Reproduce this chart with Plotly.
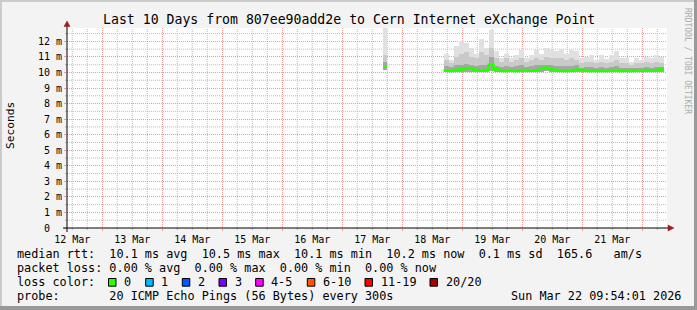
import plotly.graph_objects as go
import pandas as pd

# ---------------- data ----------------
t_start = "2026-03-12 09:54:01"
t_end = "2026-03-22 09:54:01"
y_max_ms = 12.86

day_ticks_start = "2026-03-12"
y_tick_vals = list(range(0, 13))
y_tick_text = ["0\u00a0\u00a0"] + [f"{v} m" for v in range(1, 13)]

# main run of samples (2 h bins starting at run_start)
run_start = "2026-03-18 16:30"
bin_hours = 2
ping_min = [10.02, 10.03, 10.02, 10.04, 10.05, 10.05, 10.03, 10.02, 10.03, 10.08, 10.04, 10.02,
            10.02, 10.03, 10.02, 10.03, 10.03, 10.04, 10.05, 10.06, 10.08, 10.05, 10.04, 10.03,
            10.02, 10.03, 10.04, 10.03, 10.03, 10.02, 10.03, 10.02, 10.02, 10.03, 10.04, 10.02,
            10.03, 10.02, 10.03, 10.03, 10.04, 10.03, 10.03, 10.05]
ping_p60 = [10.4, 10.35, 10.45, 10.5, 10.55, 10.5, 10.4, 10.5, 10.45, 11.0, 10.4, 10.35,
            10.4, 10.35, 10.4, 10.45, 10.35, 10.4, 10.45, 10.45, 10.5, 10.45, 10.4, 10.4,
            10.4, 10.4, 10.45, 10.3, 10.35, 10.35, 10.3, 10.35, 10.3, 10.35, 10.4, 10.3,
            10.3, 10.28, 10.3, 10.3, 10.35, 10.3, 10.35, 10.35]
ping_p80 = [10.8, 10.6, 11.0, 11.2, 11.3, 11.0, 10.9, 11.3, 11.1, 11.6, 10.9, 10.7,
            10.9, 10.7, 10.8, 10.9, 10.7, 10.8, 10.9, 10.8, 11.0, 10.9, 10.9, 10.9,
            10.8, 10.9, 10.8, 10.6, 10.7, 10.7, 10.6, 10.7, 10.6, 10.7, 10.8, 10.6,
            10.6, 10.5, 10.6, 10.6, 10.7, 10.6, 10.7, 10.6]
ping_max = [11.2, 10.8, 11.7, 12.0, 11.9, 11.55, 11.2, 12.15, 11.6, 12.75, 11.35, 10.9,
            11.2, 10.9, 11.1, 11.45, 10.9, 11.1, 11.45, 11.2, 11.6, 11.45, 11.35, 11.5,
            11.2, 11.45, 11.35, 10.9, 11.0, 11.1, 10.8, 11.15, 10.85, 11.1, 11.4, 10.9,
            10.9, 10.7, 10.9, 10.8, 11.0, 10.9, 11.1, 11.0]
median_rtt = [10.12, 10.1, 10.15, 10.2, 10.25, 10.28, 10.15, 10.12, 10.15, 10.5, 10.2, 10.12,
              10.1, 10.12, 10.1, 10.12, 10.15, 10.12, 10.12, 10.25, 10.3, 10.22, 10.15, 10.12,
              10.1, 10.12, 10.18, 10.18, 10.12, 10.1, 10.12, 10.1, 10.1, 10.12, 10.15, 10.1,
              10.12, 10.1, 10.12, 10.12, 10.15, 10.12, 10.12, 10.2]

# isolated sample on 17 Mar
blip_time = "2026-03-17 17:06"
blip_hours = 1.4
blip_min = 10.15
blip_p60 = 10.7
blip_p80 = 11.1
blip_max = 13.5
blip_median = 10.38

# legend / text content
title_text = "Last 10 Days from 807ee90add2e to Cern Internet eXchange Point"
legend_rtt = "median rtt:  10.1 ms avg  10.5 ms max  10.1 ms min  10.2 ms now  0.1 ms sd  165.6   am/s"
legend_loss = "packet loss: 0.00 % avg  0.00 % max  0.00 % min  0.00 % now"
legend_color_label = "loss color:"
loss_labels = ["0", "1", "2", "3", "4-5", "6-10", "11-19", "20/20"]
loss_colors = ["#26ff00", "#00b8ff", "#0059ff", "#7e00ff", "#ff00ff", "#ff5500", "#ff0000", "#a10000"]
legend_probe = "probe:       20 ICMP Echo Pings (56 Bytes) every 300s"
date_text = "Sun Mar 22 09:54:01 2026"

# ---------------- layout geometry ----------------
W, H = 697, 310
L, R, T, B = 67, 667, 28, 228
MONO = "DejaVu Sans Mono"
MGRID = "#ec9a9a"
GRID = "#bdbdbd"
SMOKE = ["#e0e0e0", "#c9c9c9", "#a6a6a6"]
GREEN = loss_colors[0]


def px(x):
    return (x - L) / (R - L)


def py(y):
    return (B - y) / (B - T)


def nb(s):
    return s.replace(" ", "\u00a0")


starts = pd.date_range(run_start, periods=len(median_rtt), freq=f"{bin_hours}h")
bin_td = pd.Timedelta(hours=bin_hours)
centers = starts + bin_td / 2
bw_ms = bin_hours * 3600 * 1000

b_time = pd.Timestamp(blip_time)
b_td = pd.Timedelta(hours=blip_hours)
b_ms = blip_hours * 3600 * 1000

# minor grid positions (6 h and 0.5 ms, skipping the major ones)
minor_x = [t for t in pd.date_range(day_ticks_start, t_end, freq="6h")
           if t.hour != 0 and t > pd.Timestamp(t_start)]
minor_y = [v + 0.5 for v in range(0, 13) if v + 0.5 < y_max_ms]

fig = go.Figure()

layers = [(ping_max, blip_max, SMOKE[0]), (ping_p80, blip_p80, SMOKE[1]), (ping_p60, blip_p60, SMOKE[2])]
for top, btop, col in layers:
    fig.add_trace(go.Bar(
        x=list(centers), y=[a - b for a, b in zip(top, ping_min)], base=ping_min,
        width=bw_ms, marker=dict(color=col, line=dict(width=0)),
        showlegend=False, hoverinfo="skip"))
    fig.add_trace(go.Bar(
        x=[b_time], y=[btop - blip_min], base=[blip_min],
        width=b_ms, marker=dict(color=col, line=dict(width=0)),
        showlegend=False, hoverinfo="skip"))

# median line (step)
line_x = list(starts) + [starts[-1] + bin_td]
line_y = median_rtt + [median_rtt[-1]]
fig.add_trace(go.Scatter(x=line_x, y=line_y, mode="lines", line=dict(color=GREEN, width=2.6, shape="hv"),
                         showlegend=False, hoverinfo="skip"))
fig.add_trace(go.Scatter(x=[b_time - b_td / 2, b_time + b_td / 2], y=[blip_median, blip_median], mode="lines",
                         line=dict(color=GREEN, width=2.6), showlegend=False, hoverinfo="skip"))

shapes = []
# minor grid (positioned through both axes so it sits above the plot background, below traces)
for t in minor_x:
    shapes.append(dict(type="line", xref="x", yref="y", x0=t, x1=t, y0=0, y1=y_max_ms, layer="below",
                       line=dict(color=GRID, width=1, dash="1px,1px")))
    shapes.append(dict(type="line", xref="x", yref="paper", x0=t, x1=t, y0=py(228), y1=py(230),
                       line=dict(color=GRID, width=1)))
for v in minor_y:
    shapes.append(dict(type="line", xref="x", yref="y", x0=t_start, x1=t_end, y0=v, y1=v, layer="below",
                       line=dict(color=GRID, width=1, dash="1px,1px")))
    shapes.append(dict(type="line", xref="paper", yref="y", x0=px(65), x1=px(67), y0=v, y1=v,
                       line=dict(color=GRID, width=1)))
# borders
shapes.append(dict(type="rect", xref="paper", yref="paper", x0=px(0), x1=px(W), y0=py(0), y1=py(2),
                   fillcolor="#cbcbcb", line=dict(width=0), layer="below"))
shapes.append(dict(type="rect", xref="paper", yref="paper", x0=px(0), x1=px(2), y0=py(0), y1=py(H),
                   fillcolor="#cbcbcb", line=dict(width=0), layer="below"))
shapes.append(dict(type="rect", xref="paper", yref="paper", x0=px(694), x1=px(W), y0=py(0), y1=py(H),
                   fillcolor="#999999", line=dict(width=0), layer="below"))
shapes.append(dict(type="rect", xref="paper", yref="paper", x0=px(0), x1=px(W), y0=py(306), y1=py(H),
                   fillcolor="#999999", line=dict(width=0), layer="below"))
# axes lines and arrows
shapes.append(dict(type="line", xref="paper", yref="paper", x0=px(63), x1=px(670), y0=py(228), y1=py(228),
                   line=dict(color="black", width=1)))
shapes.append(dict(type="line", xref="paper", yref="paper", x0=px(67), x1=px(67), y0=py(232), y1=py(25),
                   line=dict(color="black", width=1)))
shapes.append(dict(type="path", xref="paper", yref="paper",
                   path=f"M{px(668)},{py(225)} L{px(674)},{py(228)} L{px(668)},{py(231)} Z",
                   fillcolor="#9c1c1c", line=dict(color="#9c1c1c", width=0.5)))
shapes.append(dict(type="path", xref="paper", yref="paper",
                   path=f"M{px(64)},{py(26.5)} L{px(67)},{py(21)} L{px(70)},{py(26.5)} Z",
                   fillcolor="#9c1c1c", line=dict(color="#9c1c1c", width=0.5)))

# loss color boxes
box_x = [108.5, 145.7, 182.3, 219, 255.7, 307.3, 365, 430]
for bx, col in zip(box_x, loss_colors):
    shapes.append(dict(type="rect", xref="paper", yref="paper", x0=px(bx), x1=px(bx + 7.5),
                       y0=py(286.2), y1=py(278.5), fillcolor=col, line=dict(color="black", width=1)))

annotations = []


def ann(text, x, y, size, xanchor="left", angle=0, color="black"):
    annotations.append(dict(text=nb(text), x=px(x), y=py(y), xref="paper", yref="paper",
                            xanchor=xanchor, yanchor="middle", showarrow=False, textangle=angle,
                            font=dict(family=MONO, size=size, color=color), borderpad=0))


LEG = 11.8
ann(title_text, 348.5, 19.3, 13.2, xanchor="center")
ann(legend_rtt, 15.5, 254.3, LEG)
ann(legend_loss, 15.5, 268.3, LEG)
ann(legend_color_label, 15.5, 282.3, LEG)
for bx, lab in zip(box_x, loss_labels):
    ann(lab, bx + 14.5, 282.3, LEG)
ann(legend_probe, 15.5, 296.3, LEG)
ann(date_text, 682, 296.3, LEG, xanchor="right")
ann("Seconds", 10, 126, 11.2, xanchor="center", angle=-90)
ann("RRDTOOL / TOBI OETIKER", 688, 61, 8, xanchor="center", angle=90, color="#aaaaaa")

fig.update_layout(
    width=W, height=H,
    margin=dict(l=L, r=W - R, t=T, b=H - B, pad=0),
    paper_bgcolor="#f3f3f3", plot_bgcolor="white",
    barmode="overlay", bargap=0,
    shapes=shapes, annotations=annotations,
    xaxis=dict(
        type="date", range=[t_start, t_end], tickmode="linear", tick0=day_ticks_start,
        dtick=86400000, ticklabelmode="period", tickformat="%d %b",
        showgrid=True, gridcolor=MGRID, griddash="1px,1px", gridwidth=1,
        ticks="outside", ticklen=2, tickcolor=MGRID, showline=False, zeroline=False,
        tickfont=dict(family=MONO, size=10, color="black"), fixedrange=True,
    ),
    yaxis=dict(
        range=[0, y_max_ms], tickmode="array", tickvals=y_tick_vals, ticktext=y_tick_text,
        showgrid=True, gridcolor=MGRID, griddash="1px,1px", gridwidth=1,
        ticks="outside", ticklen=2, tickcolor=MGRID, showline=False, zeroline=False,
        tickfont=dict(family=MONO, size=10, color="black"), fixedrange=True,
    ),
)

fig.write_html("out.html")
